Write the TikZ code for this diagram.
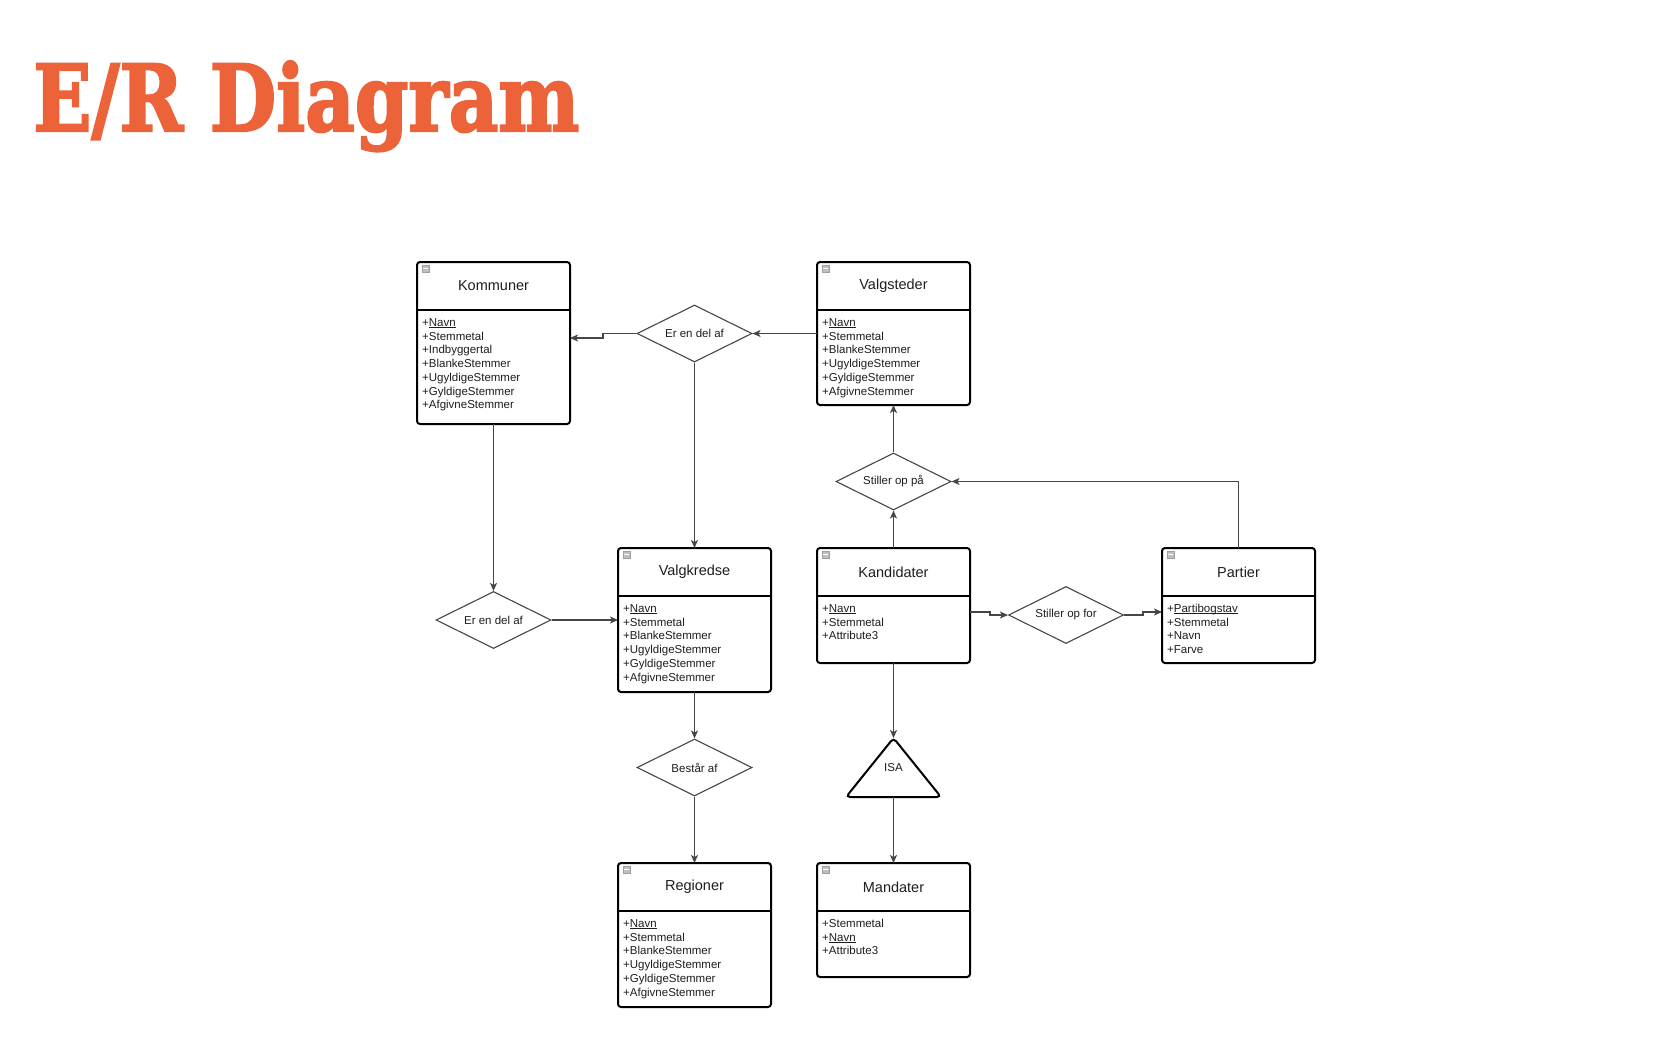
\documentclass[tikz,border=0pt]{standalone}
\usepackage{fontspec}
\setmainfont{Liberation Sans}
\newfontfamily\titlefont[BoldFeatures={FakeBold=2.5}]{DejaVu Serif}
\usetikzlibrary{shapes.geometric,arrows.meta,calc}
\definecolor{titleorange}{RGB}{236,99,57}
\definecolor{txt}{RGB}{30,30,30}
\definecolor{conncol}{RGB}{70,70,70}
\newcommand{\uline}[1]{\setbox0\hbox{#1}\rlap{\rule[-1.5pt]{\wd0}{0.6pt}}\box0}
\tikzset{
  entity/.style={draw=black, line width=2pt, rounded corners=3pt, fill=white, inner sep=0pt, outer sep=0pt},
  divider/.style={draw=black, line width=1.6pt},
  enttitle/.style={font=\fontsize{14.5}{16}\selectfont, text=txt, inner sep=0pt},
  attr/.style={font=\fontsize{11.5}{13.7}\selectfont, text=txt, inner sep=0pt},
  relbox/.style={diamond, draw=conncol, line width=1.1pt, aspect=2, minimum width=115pt, minimum height=57pt, inner sep=0pt, font=\fontsize{11.5}{13}\selectfont, text=txt},
  conn/.style={draw=conncol, line width=1.2pt, -{Stealth[length=8pt,width=7pt,inset=2pt]}},
  icon/.style={draw=gray!75, fill=gray!50, line width=0.6pt, minimum width=7pt, minimum height=7pt, inner sep=0pt},
}
\newcommand{\entitybox}[7]{%
  \node[entity, minimum width=#4pt, minimum height=#5pt, anchor=north west] (#1) at (#2,#3) {};
  \draw[divider] ([yshift=-48pt]#1.north west) -- ([yshift=-48pt]#1.north east);
  \node[enttitle] (#1-t) at ([yshift=-24pt]#1.north) {#6};
  \node[icon, anchor=north west] (#1-i) at ([xshift=5pt,yshift=-3pt]#1.north west) {};
  \draw[white, line width=0.9pt] ([xshift=1.2pt]#1-i.west) -- ([xshift=-1.2pt]#1-i.east);
  \foreach \t [count=\i] in {#7} {
    \node[attr, anchor=base west] (#1-a\i) at ([xshift=5pt, yshift={-(50.8+13.7*\i)*1pt}]#1.north west) {\t};
  }
}
\begin{document}
\begin{tikzpicture}[x=1pt, y=-1pt]
\useasboundingbox[fill=white] (0,0) rectangle (1674,1062);

% Title
\node[anchor=base west, inner sep=0pt, text=titleorange] (title) at (33,131)
  {\resizebox{546pt}{70pt}{\titlefont\bfseries E/R Diagram}};

% Entities
\entitybox{kom}{417}{262}{153}{162}{Kommuner}{+\uline{Navn},+Stemmetal,+Indbyggertal,+BlankeStemmer,+UgyldigeStemmer,+GyldigeStemmer,+AfgivneStemmer}
\entitybox{vst}{817}{262}{153}{143}{Valgsteder}{+\uline{Navn},+Stemmetal,+BlankeStemmer,+UgyldigeStemmer,+GyldigeStemmer,+AfgivneStemmer}
\entitybox{vkr}{618}{548}{153}{144}{Valgkredse}{+\uline{Navn},+Stemmetal,+BlankeStemmer,+UgyldigeStemmer,+GyldigeStemmer,+AfgivneStemmer}
\entitybox{kan}{817}{548}{153}{115}{Kandidater}{+\uline{Navn},+Stemmetal,+Attribute3}
\entitybox{par}{1162}{548}{153}{115}{Partier}{+\uline{Partibogstav},+Stemmetal,+Navn,+Farve}
\entitybox{reg}{618}{863}{153}{144}{Regioner}{+\uline{Navn},+Stemmetal,+BlankeStemmer,+UgyldigeStemmer,+GyldigeStemmer,+AfgivneStemmer}
\entitybox{man}{817}{863}{153}{114}{Mandater}{+Stemmetal,+\uline{Navn},+Attribute3}

% Relationships
\node[relbox] (d1) at (694.5,333.5) {Er en del af};
\node[relbox] (d2) at (493.5,620) {Er en del af};
\node[relbox] (d3) at (893.5,481.5) {Stiller op på};
\node[relbox] (d4) at (1066,615) {Stiller op for};
\node[relbox] (d5) at (694.5,767.5) {Består af};

% ISA triangle
\coordinate (isatop) at (893.5,738);
\coordinate (isabl) at (846,797);
\coordinate (isabr) at (941,797);
\coordinate (isabot) at (893.5,797);
\draw[black, line width=2pt, rounded corners=4pt] (isatop) -- (isabr) -- (isabl) -- cycle;
\node[font=\fontsize{11.5}{13}\selectfont, text=txt, inner sep=0pt] (isa) at (893.5,768) {ISA};

% Connectors
\coordinate (j1a) at (603,333.5);
\coordinate (j1b) at (603,338);
\draw[conn] (d1.east -| vst.west) -- (d1.east);
\draw[conn] (d1.west) -- (j1a) -- (j1b) -- (j1b -| kom.east);
\draw[conn] (d1.south) -- (d1.south |- vkr.north);
\draw[conn] (kom.south) -- (kom.south |- d2.north);
\draw[conn] (d2.east) -- (d2.east -| vkr.west);
\draw[conn] (kan.north) -- (d3.south);
\draw[conn] (d3.north) -- (vst.south);
\draw[conn] (par.north) -- (par.north |- d3.east) -- (d3.east);
\coordinate (j2a) at (990,612);
\coordinate (j2b) at (990,615);
\draw[conn] (j2a -| kan.east) -- (j2a) -- (j2b) -- (d4.west);
\coordinate (j3a) at (1143,615);
\coordinate (j3b) at (1143,612);
\draw[conn] (d4.east) -- (j3a) -- (j3b) -- (j3b -| par.west);
\draw[conn] (kan.south) -- (isatop);
\draw[conn] (isabot) -- (man.north);
\draw[conn] (vkr.south) -- (d5.north);
\draw[conn] (d5.south) -- (reg.north);
\end{tikzpicture}
\end{document}
